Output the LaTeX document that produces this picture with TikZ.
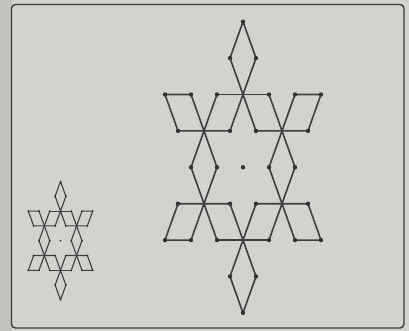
\documentclass[tikz,border=0pt]{standalone}
\usepackage{xcolor}
\usepackage{tikz}

\definecolor{paper}{RGB}{210,210,207}
\definecolor{ink}{RGB}{62,62,62}

\tikzset{
    stick/.style={draw=ink, line width=1.6pt, line join=round, line cap=round},
    head/.style={fill=ink!80!black},
}

% the matchstick star, on a lattice of half-sticks (x) and rows (y)
\newcommand{\matchstar}[1]{%
    \foreach \x/\y in {0/0, -1/1, 1/1, -6/2, -4/2, -2/2, 0/2, 2/2, 4/2, 6/2,
        -5/3, -3/3, -1/3, 1/3, 3/3, 5/3, -4/4, -2/4, 0/4, 2/4, 4/4,
        -5/5, -3/5, -1/5, 1/5, 3/5, 5/5, -6/6, -4/6, -2/6, 0/6, 2/6, 4/6, 6/6,
        -1/7, 1/7, 0/8}
        \coordinate (p\x_\y) at (\x, \y);

    \draw[stick] (p-1_3) -- (p1_1) -- (p0_0) -- (p-1_1) -- (p1_3);
    \draw[stick] (p-1_5) -- (p1_7) -- (p0_8) -- (p-1_7) -- (p1_5);
    \draw[stick] (p-4_2) -- (p-2_4);
    \draw[stick] (p-2_2) -- (p-4_4);
    \draw[stick] (p-4_4) -- (p-2_6);
    \draw[stick] (p-2_4) -- (p-4_6);
    \draw[stick] (p4_2) -- (p2_4);
    \draw[stick] (p2_2) -- (p4_4);
    \draw[stick] (p4_4) -- (p2_6);
    \draw[stick] (p2_4) -- (p4_6);

    \draw[stick] (p-4_2) -- (p-6_2) -- (p-5_3) -- (p-1_3);
    \draw[stick] (p4_2) -- (p6_2) -- (p5_3) -- (p1_3);
    \draw[stick] (p-2_2) -- (p2_2);
    \draw[stick] (p-4_6) -- (p-6_6) -- (p-5_5) -- (p-1_5);
    \draw[stick] (p4_6) -- (p6_6) -- (p5_5) -- (p1_5);
    \draw[stick] (p-2_6) -- (p2_6);

    \foreach \p in {0_0, -1_1, 1_1, -6_2, -4_2, -2_2, 2_2, 4_2, 6_2,
        -5_3, -1_3, 1_3, 5_3, -4_4, -2_4, 0_4, 2_4, 4_4,
        -5_5, -1_5, 1_5, 5_5, -6_6, -4_6, -2_6, 2_6, 4_6, 6_6,
        -1_7, 1_7, 0_8}
        \fill[head] (p\p) circle[radius=#1];
}

\begin{document}
\begin{tikzpicture}[x=1pt, y=-1pt]
    \fill[paper] (0, 0) rectangle (409, 331);
    \fill[paper!92!black] (0, 0) rectangle (11.5, 331);
    \useasboundingbox (0, 0) rectangle (409, 331);

    \draw[ink!90!black, fill=paper, line width=1.4pt, rounded corners=4pt]
        (11.5, 4.5) rectangle (404, 328);

    % large star
    \begin{scope}[shift={(243pt, -21.7pt)}, x=13pt, y=-36.4pt]
        \matchstar{2.2pt}
    \end{scope}

    % small star
    \begin{scope}[shift={(60.5pt, -181.5pt)}, x=5.37pt, y=-14.8pt,
            stick/.append style={line width=1.1pt}]
        \matchstar{1pt}
    \end{scope}
\end{tikzpicture}
\end{document}
